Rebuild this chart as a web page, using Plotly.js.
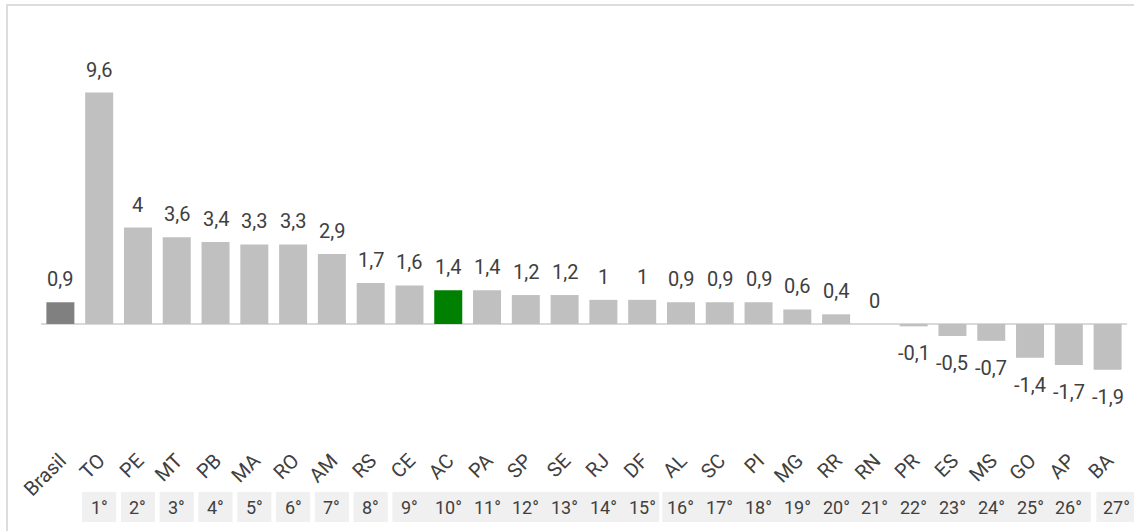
<!DOCTYPE html>
<html>
<head>
<meta charset="utf-8">
<script src="https://cdn.plot.ly/plotly-3.0.1.min.js"></script>
<style>
  html, body { margin: 0; padding: 0; background: #ffffff; overflow: hidden; }
  #wrap { position: relative; width: 1134px; height: 531px; overflow: hidden; }
  #chart { position: absolute; left: 0; top: 0; width: 1134px; height: 531px; }
  #frame { position: absolute; left: 6px; top: 4px; width: 1140px; height: 540px;
           border-top: 2px solid #dcdcdc; border-left: 2px solid #dcdcdc; pointer-events: none; }
</style>
</head>
<body>
<div id="wrap">
  <div id="chart"></div>
  <div id="frame"></div>
</div>
<script>
// ---- data ----
const categories = ['Brasil','TO','PE','MT','PB','MA','RO','AM','RS','CE','AC','PA','SP','SE','RJ','DF','AL','SC','PI','MG','RR','RN','PR','ES','MS','GO','AP','BA'];
const values = [0.9, 9.6, 4, 3.6, 3.4, 3.3, 3.3, 2.9, 1.7, 1.6, 1.4, 1.4, 1.2, 1.2, 1, 1, 0.9, 0.9, 0.9, 0.6, 0.4, 0, -0.1, -0.5, -0.7, -1.4, -1.7, -1.9];
const rankLabels = ['', '1°','2°','3°','4°','5°','6°','7°','8°','9°','10°','11°','12°','13°','14°','15°','16°','17°','18°','19°','20°','21°','22°','23°','24°','25°','26°','27°'];
// groups of ranks sharing one grey cell (first and last category index)
const rankGroups = [[1,1],[2,2],[3,3],[4,4],[5,5],[6,6],[7,7],[8,8],[9,15],[16,26],[27,27]];

// ---- styling ----
const barColor = '#c0c0c0';
const highlight = { 'Brasil': '#808080', 'AC': '#008000' };
const textColor = '#404040';
const fontFamily = 'Roboto, "Noto Sans", sans-serif';

const colors = categories.map(c => highlight[c] || barColor);
const fmt = v => String(v).replace('.', ',');
const n = categories.length;
const paperX = i => (i + 0.5) / n;   // category index -> paper x

const trace = {
  type: 'bar',
  x: categories,
  y: values,
  marker: { color: colors, line: { width: 0 } },
  hoverinfo: 'none',
  cliponaxis: false
};

const annotations = [];
categories.forEach((c, i) => {
  annotations.push({
    x: c, y: values[i], xref: 'x', yref: 'y',
    text: fmt(values[i]), showarrow: false,
    yanchor: 'middle', xanchor: 'center',
    yshift: values[i] >= 0 ? 23 : -27,
    font: { family: fontFamily, size: 20, color: textColor }
  });
});

const shapes = [];
const rankY0 = -0.119, rankY1 = -0.193;
rankGroups.forEach(g => {
  let padL = 0.44, padR = 0.44;
  if (g[0] === 16) { padL = 0.48; padR = 0.57; }
  if (g[0] === 27) { padL = 0.29; padR = 1.2; }
  shapes.push({
    type: 'rect', xref: 'paper', yref: 'paper',
    x0: paperX(g[0] - padL), x1: paperX(g[1] + padR), y0: rankY0, y1: rankY1,
    fillcolor: '#f0f0f0', line: { width: 0 }, layer: 'below'
  });
});
categories.forEach((c, i) => {
  if (!rankLabels[i]) return;
  annotations.push({
    x: paperX(i), xref: 'paper', y: (rankY0 + rankY1) / 2, yref: 'paper',
    text: rankLabels[i], showarrow: false,
    xanchor: 'center', yanchor: 'middle',
    xshift: i === n - 1 ? 9 : 0,
    font: { family: fontFamily, size: 18, color: textColor }
  });
});

const layout = {
  width: 1134, height: 531,
  margin: { l: 41, r: 7, t: 40, b: 87 },
  paper_bgcolor: '#ffffff', plot_bgcolor: '#ffffff',
  showlegend: false,
  bargap: 0.278,
  xaxis: {
    type: 'category', range: [-0.5, n - 0.5], tickangle: -45, automargin: false,
    showline: false, showgrid: false, zeroline: false, ticks: '',
    tickfont: { family: fontFamily, size: 20, color: textColor },
    fixedrange: true
  },
  yaxis: {
    range: [-4.98, 11.78], automargin: false,
    showticklabels: false, showgrid: false, showline: false, ticks: '',
    zeroline: true, zerolinecolor: '#d9d9d9', zerolinewidth: 2,
    fixedrange: true
  },
  annotations: annotations,
  shapes: shapes
};

Plotly.newPlot('chart', [trace], layout, { displayModeBar: false, staticPlot: true });
</script>
</body>
</html>
